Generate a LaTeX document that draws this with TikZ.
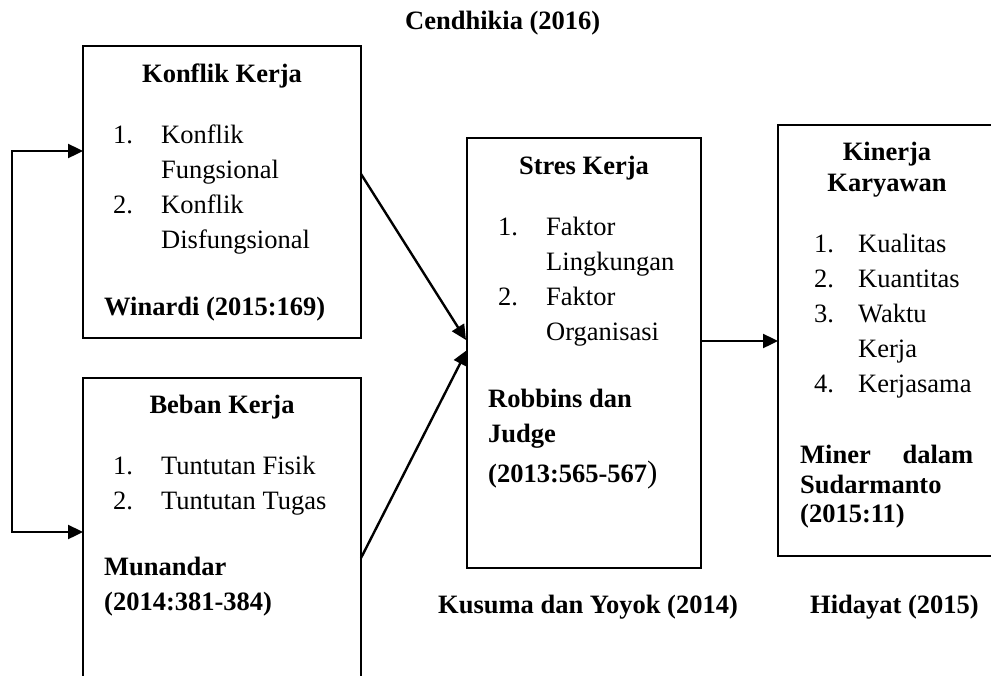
\documentclass[tikz,border=0pt]{standalone}
\usepackage{fontspec}
\setmainfont{Liberation Serif}
\usetikzlibrary{arrows.meta}
\begin{document}
\begin{tikzpicture}[x=1pt,y=-1pt,
  box/.style={draw, line width=2.2pt, inner sep=0pt, outer sep=0pt, anchor=north west},
  tx/.style={anchor=base west, inner sep=0pt, font=\fontsize{26.5}{35}\selectfont},
  hd/.style={anchor=base, inner sep=0pt, font=\fontsize{26.5}{35}\selectfont\bfseries},
  bl/.style={anchor=base west, inner sep=0pt, font=\fontsize{26.5}{35}\selectfont\bfseries},
  arr/.style={line width=2.4pt, -{Triangle[length=15pt,width=14pt]}},
  arrb/.style={line width=2.4pt, {Triangle[length=15pt,width=14pt]}-{Triangle[length=15pt,width=14pt]}}]
\clip (0,0) rectangle (991,675);
\fill[white] (0,0) rectangle (991,675);

% boxes
\node[box, minimum width=278pt, minimum height=292pt] (kk) at (83,46) {};
\node[box, minimum width=278pt, minimum height=330pt] (bk) at (83,378) {};
\node[box, minimum width=234pt, minimum height=430pt] (sk) at (467,138) {};
\node[box, minimum width=222pt, minimum height=431pt] (kn) at (778,125) {};

% Konflik Kerja
\node[hd] (kkt) at (222,82) {Konflik Kerja};
\node[tx] (kk1n) at (113,143) {1.};
\node[tx] (kk1a) at (161,143) {Konflik};
\node[tx] (kk1b) at (161,178) {Fungsional};
\node[tx] (kk2n) at (113,213) {2.};
\node[tx] (kk2a) at (161,213) {Konflik};
\node[tx] (kk2b) at (161,248) {Disfungsional};
\node[bl] (kkr) at (104,315) {Winardi (2015:169)};

% Beban Kerja
\node[hd] (bkt) at (222,413) {Beban Kerja};
\node[tx] (bk1n) at (113,474) {1.};
\node[tx] (bk1a) at (161,474) {Tuntutan Fisik};
\node[tx] (bk2n) at (113,509) {2.};
\node[tx] (bk2a) at (161,509) {Tuntutan Tugas};
\node[bl] (bkr1) at (104,575) {Munandar};
\node[bl] (bkr2) at (104,610) {(2014:381-384)};

% Stres Kerja
\node[hd] (skt) at (584,174) {Stres Kerja};
\node[tx] (sk1n) at (498,235) {1.};
\node[tx] (sk1a) at (546,235) {Faktor};
\node[tx] (sk1b) at (546,270) {Lingkungan};
\node[tx] (sk2n) at (498,305) {2.};
\node[tx] (sk2a) at (546,305) {Faktor};
\node[tx] (sk2b) at (546,340) {Organisasi};
\node[bl] (skr1) at (488,407) {Robbins dan};
\node[bl] (skr2) at (488,442) {Judge};
\node[bl] (skr3) at (488,482) {(2013:565-567{\fontsize{31}{35}\selectfont\mdseries)}};

% Kinerja Karyawan
\node[hd] (knt1) at (887,160) {Kinerja};
\node[hd] (knt2) at (887,191) {Karyawan};
\node[tx] (kn1n) at (814,252) {1.};
\node[tx] (kn1a) at (858,252) {Kualitas};
\node[tx] (kn2n) at (814,287) {2.};
\node[tx] (kn2a) at (858,287) {Kuantitas};
\node[tx] (kn3n) at (814,322) {3.};
\node[tx] (kn3a) at (858,322) {Waktu};
\node[tx] (kn3b) at (858,357) {Kerja};
\node[tx] (kn4n) at (814,392) {4.};
\node[tx] (kn4a) at (858,392) {Kerjasama};
\node[bl] (knr1) at (800,463) {\hbox to 173pt{Miner\hfill dalam}};
\node[bl] (knr2) at (800,493) {Sudarmanto};
\node[bl] (knr3) at (800,522) {(2015:11)};

% outside labels
\node[bl] (cen) at (405,29) {Cendhikia (2016)};
\node[bl] (kus) at (438,613) {Kusuma dan Yoyok (2014)};
\node[bl] (hid) at (810,613) {Hidayat (2015)};

% connector points
\coordinate (kkout) at (361,174);
\coordinate (skin1) at (466,340);
\coordinate (bkout) at (361,558);
\coordinate (skin2) at (467,350);
\coordinate (skout) at (701,341);
\coordinate (knin) at (778,341);
\coordinate (kkin) at (83,151);
\coordinate (bkin) at (83,532);
\coordinate (lt) at (12,151);
\coordinate (lb) at (12,532);

\draw[arr] (kkout) -- (skin1);
\draw[arr] (bkout) -- (skin2);
\draw[arr] (skout) -- (knin);
\draw[arrb] (kkin) -- (lt) -- (lb) -- (bkin);
\end{tikzpicture}
\end{document}
